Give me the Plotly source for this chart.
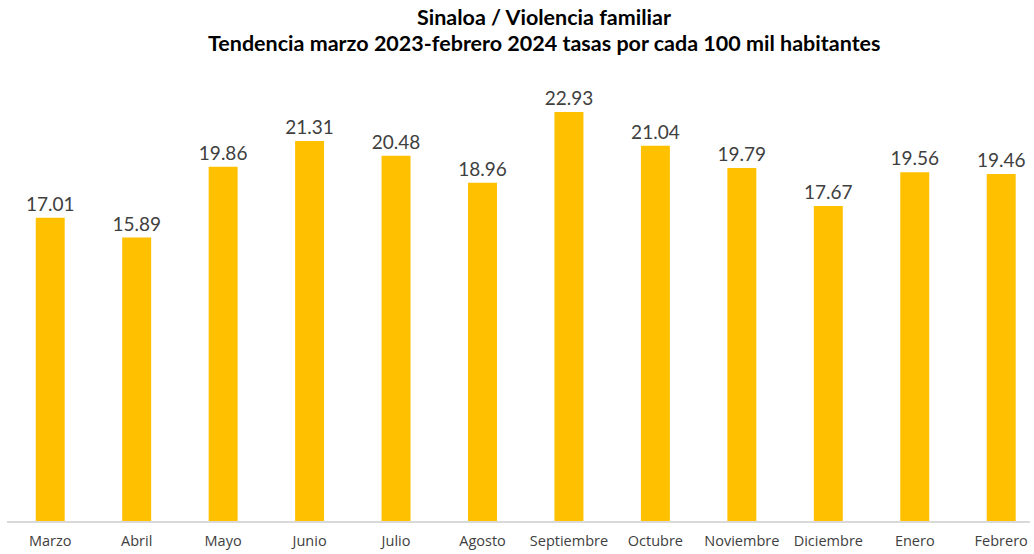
import plotly.graph_objects as go

months = ["Marzo", "Abril", "Mayo", "Junio", "Julio", "Agosto", "Septiembre",
          "Octubre", "Noviembre", "Diciembre", "Enero", "Febrero"]
rates = [17.01, 15.89, 19.86, 21.31, 20.48, 18.96, 22.93, 21.04, 19.79, 17.67, 19.56, 19.46]
labels = [f"{v:.2f}" for v in rates]

fig = go.Figure(go.Bar(
    x=months, y=rates, text=labels, textposition="outside", constraintext="none",
    textfont=dict(family="Lato, sans-serif", size=19, color="#404040"),
    marker=dict(color="#FFC000", line=dict(width=0)),
    width=0.335, cliponaxis=False, hoverinfo="skip",
))

fig.update_layout(
    width=1034, height=554,
    margin=dict(l=7, r=4, t=60, b=30),
    paper_bgcolor="white", plot_bgcolor="white",
    showlegend=False,
    xaxis=dict(range=[-0.5, 11.333], showline=True, linecolor="#D9D9D9", linewidth=2,
               ticks="", showgrid=False, zeroline=False, ticklabelstandoff=6,
               tickfont=dict(family="Open Sans, sans-serif", size=14.5, color="#404040")),
    yaxis=dict(range=[0, 25.85], visible=False, showgrid=False, zeroline=False),
)
fig.add_annotation(text="<b>Sinaloa / Violencia familiar</b>", x=0.525, y=(554 - 17 - 30) / 464,
                   xref="paper", yref="paper", showarrow=False, xanchor="center", yanchor="middle",
                   font=dict(family="Lato, sans-serif", size=21.5, color="#000000"))
fig.add_annotation(text="<b>Tendencia marzo 2023-febrero 2024 tasas por cada 100 mil habitantes</b>",
                   x=0.525, y=(554 - 43 - 30) / 464,
                   xref="paper", yref="paper", showarrow=False, xanchor="center", yanchor="middle",
                   font=dict(family="Lato, sans-serif", size=21.5, color="#000000"))

fig.write_html("out.html", config={"displayModeBar": False},
               post_script="document.body.style.margin='0';")
